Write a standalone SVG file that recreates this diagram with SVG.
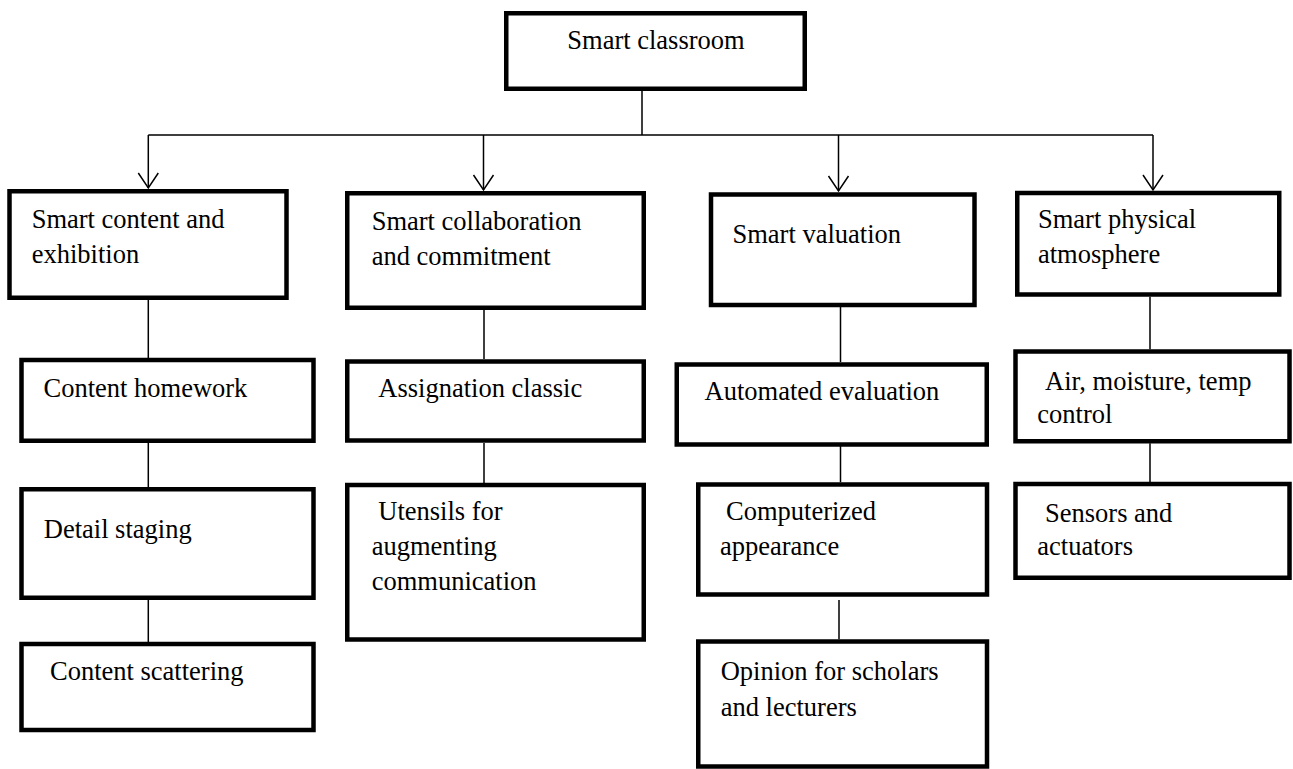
<svg xmlns="http://www.w3.org/2000/svg" width="1293" height="769" viewBox="0 0 1293 769">
<style>
.box{fill:#fff;stroke:#000;stroke-width:4.5;stroke-linejoin:miter}
.lbl{font-family:'Liberation Serif','DejaVu Serif',serif;font-size:26.5px;fill:#000}
.con{fill:none;stroke:#000;stroke-width:1.5}
</style>
<defs>
<marker id="arr" markerUnits="userSpaceOnUse" markerWidth="20" markerHeight="24" viewBox="-17 -12 20 24" refX="0" refY="0" orient="auto">
<path d="M-15,-10 L0,0 L-15,10" fill="none" stroke="#000" stroke-width="1.5"/>
</marker>
</defs>
<rect width="1293" height="769" fill="#fff"/>
<g id="connectors">
<path class="con" d="M642,91 V135 M148.3,135 H1153"/>
<path class="con" d="M148.3,135 V188" marker-end="url(#arr)"/>
<path class="con" d="M483.5,135 V190" marker-end="url(#arr)"/>
<path class="con" d="M838.5,135 V191" marker-end="url(#arr)"/>
<path class="con" d="M1153,135 V190" marker-end="url(#arr)"/>
<path class="con" d="M148.3,300 V358 M148.3,443 V487 M148.3,600 V642"/>
<path class="con" d="M484,310 V359 M484,443 V483"/>
<path class="con" d="M840.5,307 V362 M840.5,442 V482.3 M839,600 V639.3"/>
<path class="con" d="M1150,296.7 V349.3 M1150,443.3 V486"/>
</g>
<g id="n0"><rect class="box" x="506.25" y="13.25" width="298.5" height="75.5"/><text class="lbl" x="567.3" y="49.3">Smart classroom</text></g>
<g id="n1"><rect class="box" x="9.5" y="191.25" width="277" height="106.5"/><text class="lbl"><tspan x="31.7" y="228">Smart content and</tspan><tspan x="31.7" y="263">exhibition</tspan></text></g>
<g id="n2"><rect class="box" x="347.25" y="193.25" width="296.5" height="114.5"/><text class="lbl"><tspan x="371.7" y="230">Smart collaboration</tspan><tspan x="371.7" y="265">and commitment</tspan></text></g>
<g id="n3"><rect class="box" x="711" y="194.5" width="263.5" height="110.5"/><text class="lbl" x="732.5" y="243">Smart valuation</text></g>
<g id="n4"><rect class="box" x="1017.25" y="193" width="262" height="101.5"/><text class="lbl"><tspan x="1038" y="228">Smart physical</tspan><tspan x="1038" y="263">atmosphere</tspan></text></g>
<g id="n5"><rect class="box" x="21.5" y="360" width="292" height="80.75"/><text class="lbl" x="43.5" y="396.7">Content homework</text></g>
<g id="n6"><rect class="box" x="21.5" y="489.25" width="292" height="108.5"/><text class="lbl" x="43.75" y="538.3">Detail staging</text></g>
<g id="n7"><rect class="box" x="21.5" y="644" width="292" height="86"/><text class="lbl" x="50" y="680">Content scattering</text></g>
<g id="n8"><rect class="box" x="347.25" y="361.5" width="296.5" height="79"/><text class="lbl" x="378.3" y="396.7">Assignation classic</text></g>
<g id="n9"><rect class="box" x="347.25" y="485" width="296.5" height="154.5"/><text class="lbl"><tspan x="378.3" y="520">Utensils for</tspan><tspan x="371.7" y="555">augmenting</tspan><tspan x="371.7" y="590">communication</tspan></text></g>
<g id="n10"><rect class="box" x="676.75" y="364.5" width="310" height="80"/><text class="lbl" x="704.6" y="400">Automated evaluation</text></g>
<g id="n11"><rect class="box" x="698.25" y="484.5" width="288.75" height="110"/><text class="lbl"><tspan x="726" y="520">Computerized</tspan><tspan x="720" y="555">appearance</tspan></text></g>
<g id="n12"><rect class="box" x="698.25" y="641.5" width="288.75" height="125"/><text class="lbl"><tspan x="720.7" y="680">Opinion for scholars</tspan><tspan x="720.7" y="716">and lecturers</tspan></text></g>
<g id="n13"><rect class="box" x="1015.5" y="351.5" width="274" height="89.75"/><text class="lbl"><tspan x="1045" y="390">Air, moisture, temp</tspan><tspan x="1037.3" y="423.3">control</tspan></text></g>
<g id="n14"><rect class="box" x="1015.5" y="484" width="274" height="93.75"/><text class="lbl"><tspan x="1045" y="521.7">Sensors and</tspan><tspan x="1037.3" y="555">actuators</tspan></text></g>
</svg>
